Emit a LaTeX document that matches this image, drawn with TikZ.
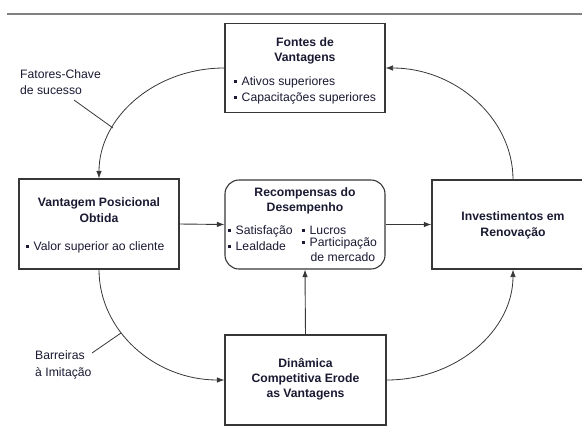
\documentclass[tikz,border=0pt]{standalone}
\usepackage{fontspec}
\setmainfont{Liberation Sans}
\usetikzlibrary{arrows.meta}
\definecolor{txt}{RGB}{25,25,50}
\definecolor{ln}{RGB}{55,55,55}
\newcommand{\bsq}{\raisebox{1.8pt}{\rule{3pt}{3pt}}\hspace{4.5pt}}
\begin{document}
\begin{tikzpicture}[x=1pt,y=-1pt,
  box/.style={draw=ln, line width=1.1pt, minimum width=160pt, minimum height=89pt, inner sep=0pt},
  tt/.style={anchor=base, text=txt, font=\fontsize{12.2}{14}\selectfont\bfseries, inner sep=0pt},
  rr/.style={anchor=base west, text=txt, font=\fontsize{12.2}{14}\selectfont, inner sep=0pt},
  arr/.style={draw=ln, line width=0.8pt, -{Latex[length=7.5pt,width=5.5pt]}},
  ptr/.style={draw=ln, line width=0.8pt}]
\useasboundingbox (0,0) rectangle (582,432);
\clip (0,0) rectangle (582,432);
\coordinate (r1) at (7,14);
\coordinate (r2) at (582,14);
\draw[gray, line width=1.3pt] (r1) -- (r2);
% boxes
\node[box] (fontes) at (305,68) {};
\node[box, minimum height=90pt] (vant) at (99,224) {};
\node[box, rounded corners=14pt] (rec) at (305,224.5) {};
\node[box, minimum width=162pt] (inv) at (513,224.5) {};
\node[box, minimum width=161pt, minimum height=90pt] (dyn) at (305.5,380) {};
% texts
\node[tt] (f1) at (305,46) {Fontes de};
\node[tt] (f2) at (305,61.5) {Vantagens};
\node[rr] (f3) at (234,85) {\bsq Ativos superiores};
\node[rr] (f4) at (234,101) {\bsq Capacitações superiores};
\node[tt] (v1) at (99,206.5) {Vantagem Posicional};
\node[tt] (v2) at (99,222.5) {Obtida};
\node[rr] (v3) at (26,250) {\bsq Valor superior ao cliente};
\node[tt] (c1) at (305,196.5) {Recompensas do};
\node[tt] (c2) at (305,211.5) {Desempenho};
\node[rr] (c3) at (228,234) {\bsq Satisfação};
\node[rr] (c4) at (228,250) {\bsq Lealdade};
\node[rr] (c5) at (302,234) {\bsq Lucros};
\node[rr] (c6) at (302,246) {\bsq Participação};
\node[rr] (c7) at (310.5,261) {de mercado};
\node[tt] (i1) at (513,220.5) {Investimentos em};
\node[tt] (i2) at (513,236.5) {Renovação};
\node[tt] (d1) at (305.5,367) {Dinâmica};
\node[tt] (d2) at (305.5,382) {Competitiva Erode};
\node[tt] (d3) at (305.5,397) {as Vantagens};
\node[rr] (l1) at (20,78) {Fatores-Chave};
\node[rr] (l2) at (20,94) {de sucesso};
\node[rr] (l3) at (35,359) {Barreiras};
\node[rr] (l4) at (35,376) {à Imitação};
% curved connectors
\draw[arr] (fontes.west) .. controls +(-70,0) and +(0,-61) .. (vant.north);
\draw[arr] (vant.south) .. controls +(0,61) and +(-70,0) .. (dyn.west);
\draw[arr] (dyn.east) .. controls +(70,0) and +(0,61) .. (inv.south);
\draw[arr] (inv.north) .. controls +(0,-61) and +(70,0) .. (fontes.east);
% straight connectors
\draw[arr, line width=0.9pt] (vant.east) -- (rec.west);
\draw[arr, line width=0.9pt] (rec.east) -- (inv.west);
\draw[arr, line width=0.9pt] (dyn.north) -- (rec.south);
% pointers
\coordinate (pa) at (74,100);
\coordinate (pb) at (113,128);
\coordinate (pc) at (92,353);
\coordinate (pd) at (121,333);
\draw[ptr] (pa) -- (pb);
\draw[ptr] (pc) -- (pd);
\end{tikzpicture}
\end{document}
